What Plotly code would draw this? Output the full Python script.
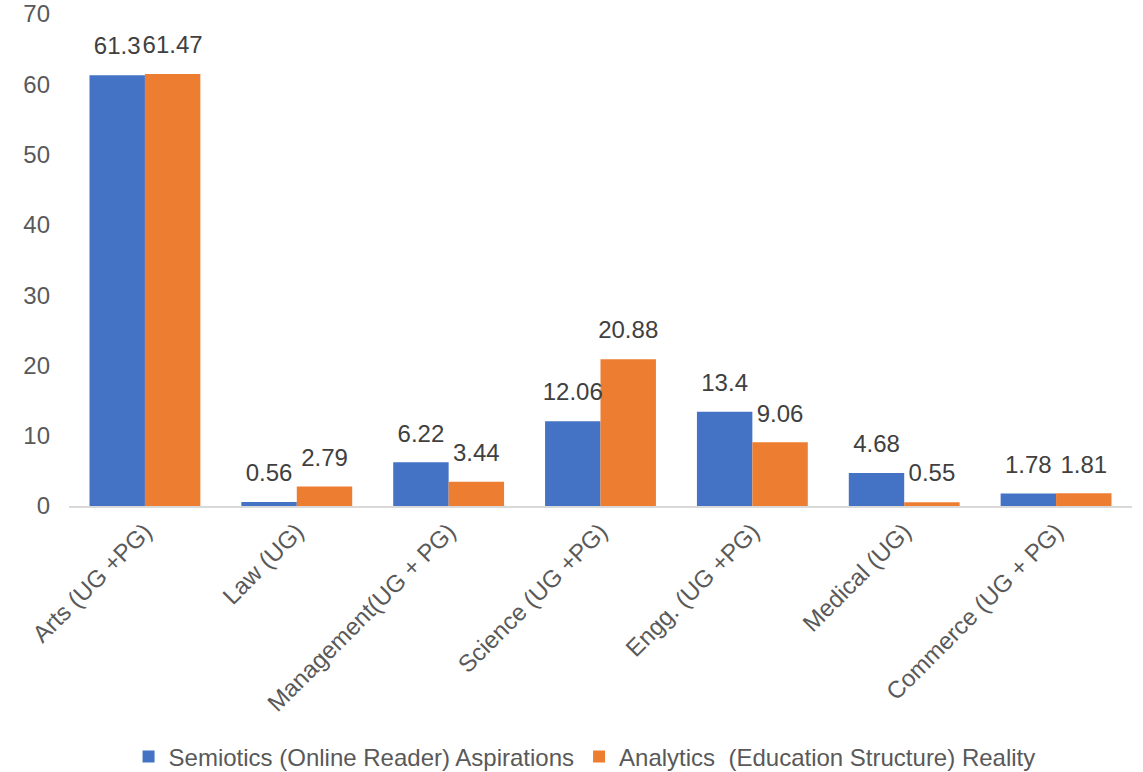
import plotly.graph_objects as go

categories = ["Arts (UG +PG)", "Law (UG)", "Management(UG + PG)", "Science (UG +PG)",
              "Engg. (UG +PG)", "Medical (UG)", "Commerce (UG + PG)"]
aspirations = [61.3, 0.56, 6.22, 12.06, 13.4, 4.68, 1.78]
reality = [61.47, 2.79, 3.44, 20.88, 9.06, 0.55, 1.81]
series_names = ["Semiotics (Online Reader) Aspirations", "Analytics  (Education Structure) Reality"]
y_ticks = [0, 10, 20, 30, 40, 50, 60, 70]

FONT = "Liberation Sans, Arial, sans-serif"
FS = 24
GAP = 0.27

fig = go.Figure()
series = [(series_names[0], aspirations, "#4472C4", "a"),
          (series_names[1], reality, "#ED7D31", "b")]
for name, vals, color, grp in series:
    fig.add_trace(go.Bar(
        x=categories, y=vals, name=name, offsetgroup=grp,
        marker=dict(color=color, line=dict(width=0)),
    ))
for name, vals, color, grp in series:
    fig.add_trace(go.Scatter(
        x=categories, y=vals, mode="markers+text", offsetgroup=grp, showlegend=False,
        marker=dict(size=22, color="rgba(0,0,0,0)"), hoverinfo="skip",
        text=[f"{v:g}" for v in vals], textposition="top center", cliponaxis=False,
        textfont=dict(family=FONT, size=FS, color="#404040"),
    ))

fig.update_layout(
    width=1143, height=772, barmode="group", bargap=GAP, bargroupgap=0,
    scattermode="group", scattergap=GAP,
    plot_bgcolor="white", paper_bgcolor="white",
    margin=dict(l=69, r=11, t=14, b=266, autoexpand=False),
    font=dict(family=FONT, size=FS, color="#595959"),
    xaxis=dict(tickangle=-45, showline=True, linecolor="#D9D9D9", linewidth=2,
               ticks="", automargin=False, tickfont=dict(size=FS, color="#595959")),
    yaxis=dict(range=[0, 70], tickvals=y_ticks, showgrid=False, zeroline=False,
               showline=False, ticks="", ticklabelstandoff=18, automargin=False,
               ticklabeloverflow="allow",
               tickfont=dict(size=FS, color="#595959")),
    legend=dict(orientation="h", x=0.485, xanchor="center", y=-0.51, yanchor="middle",
                font=dict(size=FS, color="#595959"), itemwidth=30),
    showlegend=True,
)
fig.write_html("out.html", config={"displayModeBar": False},
               post_script="document.body.style.margin='0';document.body.style.overflow='hidden';")
